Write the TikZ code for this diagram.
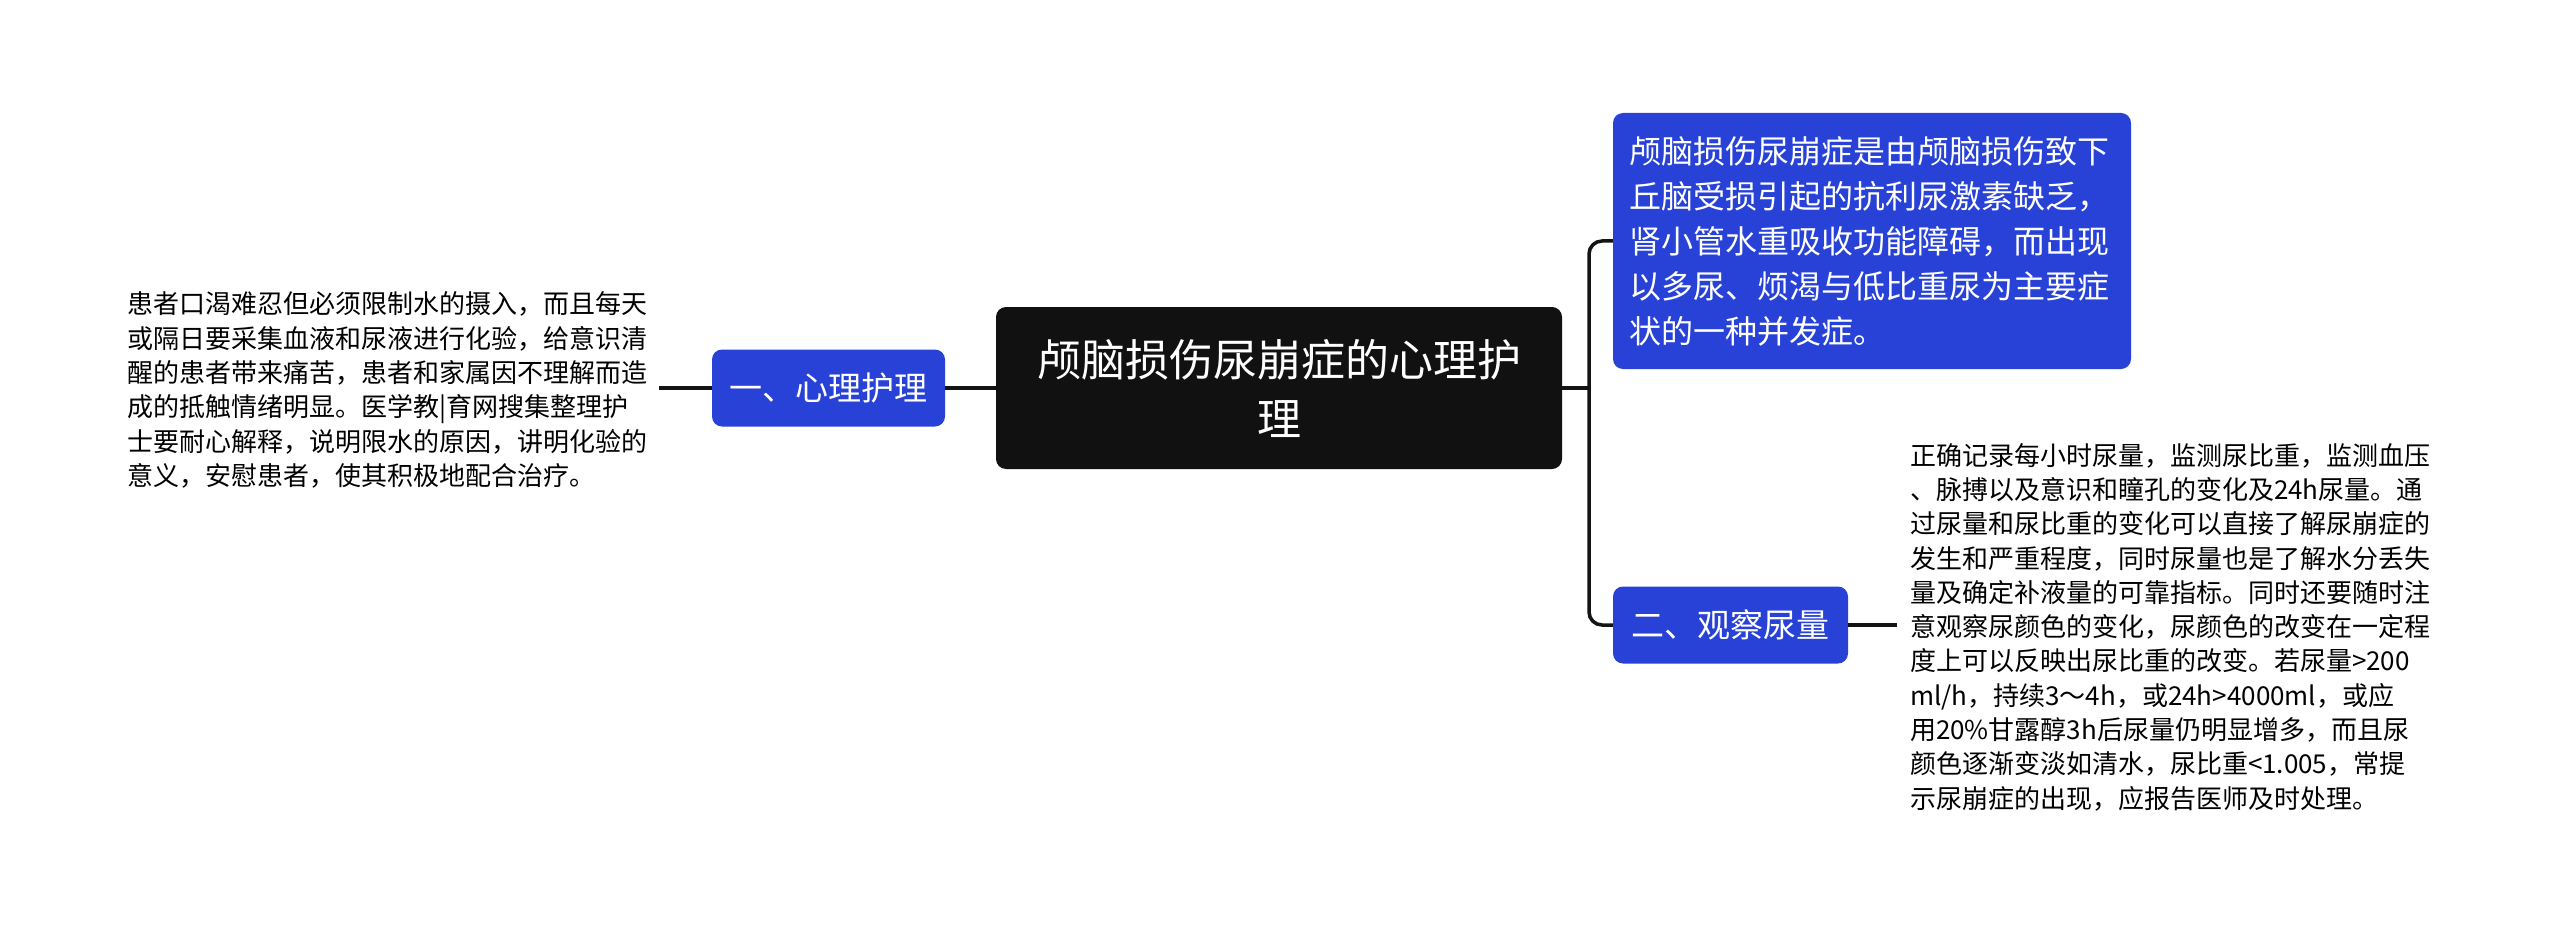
\documentclass[tikz,border=0pt]{standalone}
\usepackage{fontspec}
\newfontfamily\cjk{Noto Sans CJK SC}
\definecolor{nodeblue}{RGB}{40,66,216}
\definecolor{rootblack}{RGB}{17,17,17}
\definecolor{linecol}{RGB}{20,20,20}
\tikzset{
  conn/.style={draw=linecol, line width=3.5pt},
  bluebox/.style={fill=nodeblue, rounded corners=10pt, text=white, inner sep=0pt, align=center},
  rootbox/.style={fill=rootblack, rounded corners=10pt, text=white, inner sep=0pt, align=center,
    minimum width=566pt, minimum height=162pt, font=\cjk\fontsize{44}{59}\selectfont},
  labelbox/.style={bluebox, minimum height=77pt, font=\cjk\fontsize{33}{40}\selectfont},
  plaintext/.style={inner sep=0pt, align=left, text=black, font=\cjk\fontsize{26}{34.3}\selectfont},
}
\begin{document}
\begin{tikzpicture}[x=1pt,y=-1pt]
\fill[white] (0,0) rectangle (2560,936);
\useasboundingbox (0,0) rectangle (2560,936);

\node[rootbox] (cn) at (1279,388) {颅脑损伤尿崩症的心理护\\理};

\node[labelbox, minimum width=233pt] (ln) at (828.5,388) {一、心理护理};

\node[plaintext, anchor=west, outer xsep=12pt] (lt) at (115,390) {患者口渴难忍但必须限制水的摄入，而且每天\\或隔日要采集血液和尿液进行化验，给意识清\\醒的患者带来痛苦，患者和家属因不理解而造\\成的抵触情绪明显。医学教|育网搜集整理护\\士要耐心解释，说明限水的原因，讲明化验的\\意义，安慰患者，使其积极地配合治疗。};

\node[bluebox, minimum width=518pt, minimum height=256pt] (tn) at (1872,241)
  {\begin{minipage}{486pt}\raggedright\cjk\fontsize{32}{45}\selectfont
  颅脑损伤尿崩症是由颅脑损伤致下\\丘脑受损引起的抗利尿激素缺乏，\\肾小管水重吸收功能障碍，而出现\\以多尿、烦渴与低比重尿为主要症\\状的一种并发症。\end{minipage}};

\node[labelbox, minimum width=235pt] (bn) at (1730.5,625) {二、观察尿量};

\node[plaintext, anchor=west, outer xsep=13pt] (rt) at (1897,627) {正确记录每小时尿量，监测尿比重，监测血压\\、脉搏以及意识和瞳孔的变化及24h尿量。通\\过尿量和尿比重的变化可以直接了解尿崩症的\\发生和严重程度，同时尿量也是了解水分丢失\\量及确定补液量的可靠指标。同时还要随时注\\意观察尿颜色的变化，尿颜色的改变在一定程\\度上可以反映出尿比重的改变。若尿量>200\\ml/h，持续3～4h，或24h>4000ml，或应\\用20\%甘露醇3h后尿量仍明显增多，而且尿\\颜色逐渐变淡如清水，尿比重<1.005，常提\\示尿崩症的出现，应报告医师及时处理。};

\coordinate (tr) at (1589,388);

\draw[conn] (ln.west -| lt.east) -- (ln.west);
\draw[conn] (ln.east) -- (cn.west);
\draw[conn] (cn.east) -- (tr);
\draw[conn, rounded corners=13pt] (tn.west) -| (tr) |- (bn.west);
\draw[conn] (bn.east) -- (bn.east -| rt.west);
\end{tikzpicture}
\end{document}
